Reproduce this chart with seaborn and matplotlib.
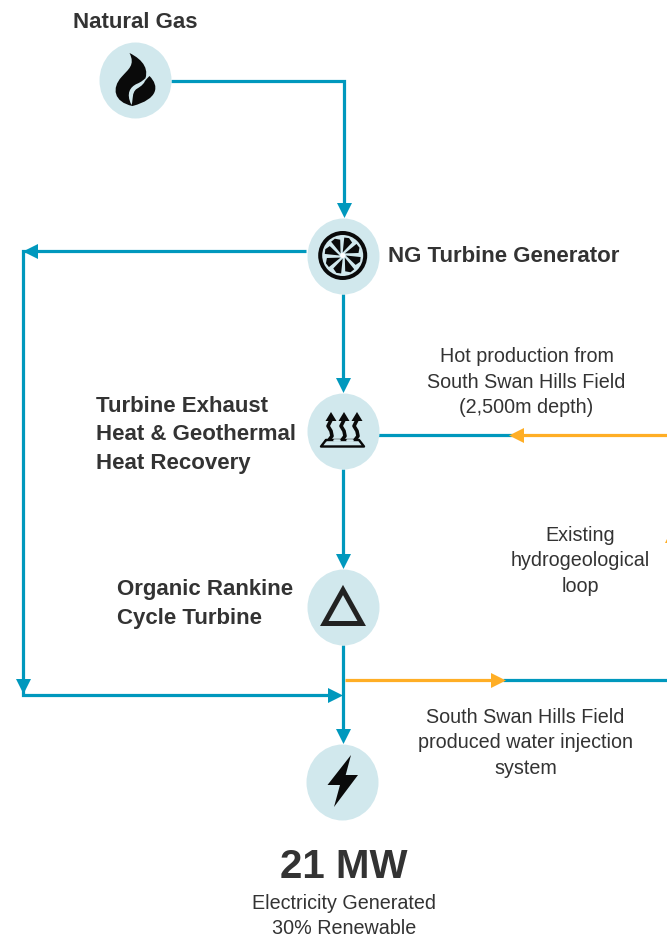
import numpy as np
import matplotlib
matplotlib.use("Agg")
import matplotlib.pyplot as plt
import seaborn as sns
from matplotlib.path import Path
from matplotlib.patches import PathPatch, Circle, Polygon
from matplotlib.transforms import Affine2D

# node centres, in picture pixels
node_names = ["gas", "turbine", "heat", "orc", "power"]
node_x = [134.5, 343, 343, 343, 342]
node_y = [80, 256, 431, 607, 782]

# flow lines (x points, y points)
teal_lines = [
    ([171, 343.5, 343.5], [81, 81, 210]),
    ([306, 23, 23, 330], [251, 251, 695, 695]),
    ([343, 343], [294, 384]),
    ([343, 343], [469, 560]),
    ([343, 343], [645, 735]),
    ([378, 512], [435, 435]),
    ([503, 667], [680, 680]),
]
orange_lines = [
    ([518, 667], [435, 435]),
    ([345, 497], [680, 680]),
]

# arrow heads: x, y, marker
teal_heads = [
    (343.5, 210.5, "v"), (343, 385.5, "v"), (343, 561.5, "v"), (343, 736.5, "v"),
    (29.5, 251, "<"), (23, 686.5, "v"), (334.5, 695, ">"),
]
orange_heads = [(515.5, 435, "<"), (498, 680, ">"), (672, 535.5, "^")]

labels_bold = [
    ("Natural Gas", 135, 23, "center"),
    ("NG Turbine Generator", 388, 256, "left"),
    ("Turbine Exhaust\nHeat & Geothermal\nHeat Recovery", 96, 435, "left"),
    ("Organic Rankine\nCycle Turbine", 117, 604, "left"),
]
labels_plain = [
    ("Hot production from\nSouth Swan Hills Field\n(2,500m depth)", 526.5, 382),
    ("Existing\nhydrogeological\nloop", 580, 561),
    ("South Swan Hills Field\nproduced water injection\nsystem", 525.5, 743),
    ("Electricity Generated\n30% Renewable", 344, 916),
]

TEAL = "#0098BD"
ORANGE = "#FFAE25"
BUBBLE = "#D1E8ED"
DARK = "#333333"
ICON = "#0A0A0A"

sns.set_theme(style="white")
plt.rcParams["font.family"] = ["Liberation Sans", "DejaVu Sans"]

fig = plt.figure(figsize=(6.67, 9.38), dpi=100)
ax = fig.add_axes([0, 0, 1, 1])


def px(p):
    # pixels -> points
    return p * 72 / 100


# flows
for lines, col, z in [(teal_lines, TEAL, 2), (orange_lines, ORANGE, 3)]:
    for xs, ys in lines:
        sns.lineplot(x=xs, y=ys, sort=False, estimator=None, color=col, lw=px(3.2),
                     solid_joinstyle="miter", solid_capstyle="butt", ax=ax, zorder=z)

for heads, col in [(teal_heads, TEAL), (orange_heads, ORANGE)]:
    for hx, hy, m in heads:
        sns.scatterplot(x=[hx], y=[hy], marker=m, s=px(15) ** 2, color=col, linewidth=0, ax=ax, zorder=4)

# node bubbles
unit = Path.unit_circle().transformed(Affine2D().scale(36 / 38, 1))
sns.scatterplot(x=node_x, y=node_y, marker=unit, s=px(76) ** 2, color=BUBBLE, linewidth=0, ax=ax, zorder=5)

ax.set_xlim(0, 667)
ax.set_ylim(938, 0)
ax.axis("off")


def icon(verts, cx, cy, color=ICON, z=6):
    poly = Polygon(np.array(verts) + [cx, cy], closed=True, fc=color, ec="none", zorder=z)
    ax.add_patch(poly)


# flame
cx, cy = node_x[0], node_y[0]
flame = Path(
    np.array([
        (-5, -27), (9, -20), (16, -10), (9, 3),
        (11, 0), (13, -2), (15, -4),
        (25, 6), (24, 19), (-2, 26),
        (-21, 22), (-23, 8), (-13, -3),
        (-6, -11), (1, -15), (-5, -27),
    ]) + [cx, cy],
    [Path.MOVETO, Path.CURVE4, Path.CURVE4, Path.CURVE4,
     Path.CURVE4, Path.CURVE4, Path.CURVE4,
     Path.CURVE4, Path.CURVE4, Path.CURVE4,
     Path.CURVE4, Path.CURVE4, Path.CURVE4,
     Path.CURVE4, Path.CURVE4, Path.CURVE4],
)
ax.add_patch(PathPatch(flame, fc=ICON, ec="none", zorder=6))
swirl = Path(
    np.array([(-3, 25), (-9, 13), (-4, 7), (2, 4), (7, 2), (9, 0), (11, -2), (11, 3), (7, 6), (2, 9), (-3, 13), (-1, 19), (-3, 25)]) + [cx, cy],
    [Path.MOVETO] + [Path.CURVE4] * 12,
)
ax.add_patch(PathPatch(swirl, fc=BUBBLE, ec="none", zorder=7))

# turbine fan
cx, cy = 342.7, 255.5
ax.add_patch(Circle((cx, cy), 22.5, fc="none", ec=ICON, lw=px(4), zorder=6))
for a in np.arange(0, 360, 360 / 8):
    ang = np.radians([a, a + 5, a + 20, a + 36])
    rad = np.array([3, 18, 18.5, 16])
    icon(np.column_stack([rad * np.cos(ang), rad * np.sin(ang)]), cx, cy)
ax.add_patch(Circle((cx, cy), 2.5, fc="white", ec="none", zorder=7))

# heat arrows
cx, cy = node_x[2], node_y[2]
for dx in (-13, 0, 13):
    wx = np.array([1, -2, 1, 2, -1]) + dx + cx
    wy = np.array([-11, -5, 0, 5, 9]) + cy
    ax.plot(wx, wy, color=ICON, lw=px(3.6), zorder=6, solid_capstyle="butt")
    icon([(wx[0] - 5.5, wy[0] + 1), (wx[0], wy[0] - 8), (wx[0] + 5.5, wy[0] + 1)], 0, 0)
ax.plot([cx - 17, cx + 16, cx + 21, cx - 22, cx - 17], [cy + 9, cy + 9, cy + 15.5, cy + 15.5, cy + 9],
        color=ICON, lw=px(2.4), zorder=5.5)
for dx in (-6.5, 6.5):
    ax.plot([cx + dx - 2.5, cx + dx + 2.5], [cy + 9, cy + 9], color=BUBBLE, lw=px(2.6), zorder=5.7)

# triangle
cx, cy = node_x[3], node_y[3]
ax.add_patch(Polygon([(cx, cy - 17), (cx + 18.7, cy + 16.5), (cx - 18.7, cy + 16.5)], closed=True,
                     fc="none", ec="#222222", lw=px(5), joinstyle="miter", zorder=6))

# bolt
cx, cy = node_x[4], node_y[4]
icon([(9, -27), (-14.5, 3), (-2, 3), (-8, 25), (16, -7), (3.7, -7)], cx, cy)

for txt, x, y, ha in labels_bold:
    ax.text(x, y, txt, ha=ha, va="center", fontsize=16, fontweight="bold", color=DARK, linespacing=1.49, zorder=8)
for txt, x, y in labels_plain:
    ax.text(x, y, txt, ha="center", va="center", fontsize=14.2, color=DARK, linespacing=1.43, zorder=8)
ax.text(344, 867, "21 MW", ha="center", va="center", fontsize=29, fontweight="bold", color=DARK, zorder=8)

fig.savefig("out.png", dpi=100, facecolor="white")
